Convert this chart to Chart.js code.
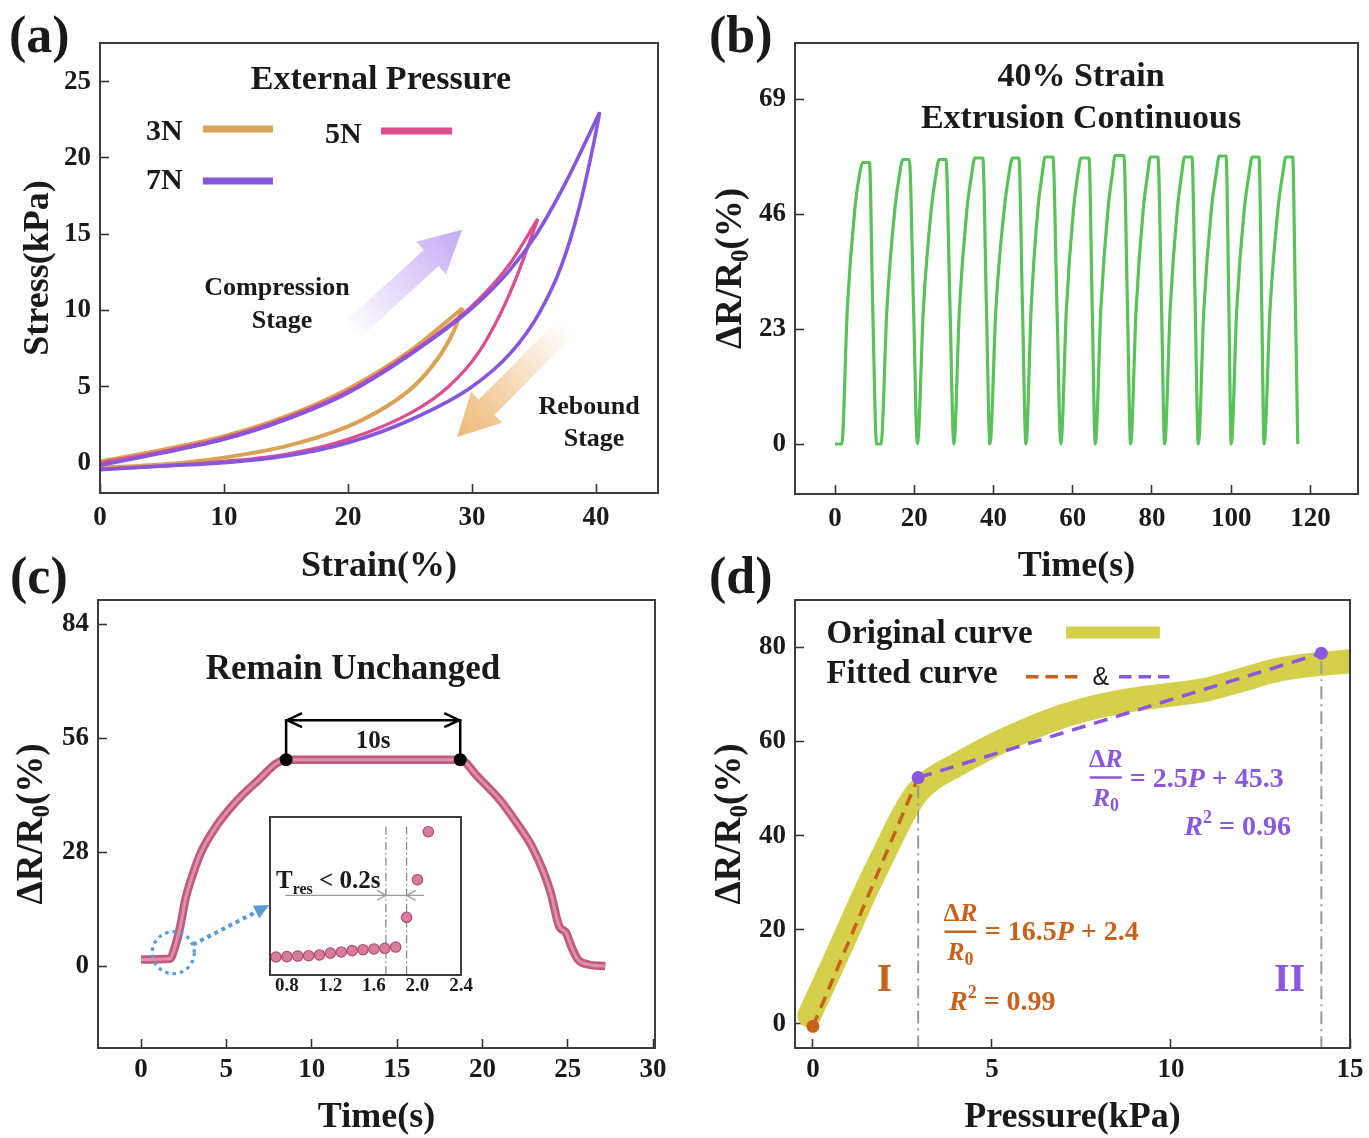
<!DOCTYPE html>
<html>
<head>
<meta charset="utf-8">
<title>Stress and resistance response</title>
<script src="https://cdn.jsdelivr.net/npm/chart.js@4.4.1/dist/chart.umd.min.js"></script>
<style>
html, body { margin: 0; padding: 0; background: #fff; }
body { position: relative; width: 1369px; height: 1138px; overflow: hidden; }
.box { position: absolute; }
</style>
</head>
<body>
<div class="box" style="left:0;top:0;width:684px;height:600px"><canvas id="chartA"></canvas></div>
<div class="box" style="left:684px;top:0;width:685px;height:600px"><canvas id="chartB"></canvas></div>
<div class="box" style="left:0;top:545px;width:684px;height:593px"><canvas id="chartC"></canvas></div>
<div class="box" style="left:684px;top:545px;width:685px;height:593px"><canvas id="chartD"></canvas></div>
<div class="box" style="left:262px;top:808px;width:216px;height:195px"><canvas id="chartInset"></canvas></div>
<script>
/* (a) stress-strain loops: loading branch and return branch, both listed by rising strain */
var strainTicks = [0, 10, 20, 30, 40];
var stressTicks = [0, 5, 10, 15, 20, 25];
var strain3Up = [0, 5, 10, 15, 20, 25, 29.25];
var stress3Up = [0.1, 0.85, 1.75, 3.05, 4.85, 7.35, 10.15];
var strain3Back = [0, 5, 10, 15, 20, 23.1, 25.4, 27.2, 28.5, 29.25];
var stress3Back = [-0.3, -0.1, 0.35, 1.1, 2.4, 3.7, 5.1, 6.8, 8.6, 10.15];
var strain5Up = [0, 5, 10, 15, 20, 25, 30, 33, 35.3];
var stress5Up = [0.0, 0.75, 1.65, 2.95, 4.7, 7.2, 10.3, 13.0, 16.0];
var strain5Back = [0, 5, 10, 15, 20, 25.1, 28.1, 30.5, 32.3, 33.6, 34.6, 35.3];
var stress5Back = [-0.4, -0.2, 0.1, 0.57, 1.55, 3.3, 5.0, 7.2, 9.8, 12.2, 14.4, 16.0];
var strain7Up = [0, 5, 10, 15, 20, 25, 30, 33, 35.2, 37.5, 40.3];
var stress7Up = [-0.15, 0.65, 1.55, 2.85, 4.6, 7.1, 10.15, 12.6, 15.0, 18.3, 23.0];
var strain7Back = [0, 5, 10, 15, 20, 25.1, 30, 33.1, 35.4, 37.2, 38.6, 39.8, 40.3];
var stress7Back = [-0.45, -0.2, 0.02, 0.46, 1.33, 2.85, 5.0, 7.2, 9.8, 12.9, 16.6, 20.9, 23.0];

/* (b) continuous extrusion at 40% strain */
var timeTicksB = [0, 20, 40, 60, 80, 100, 120];
var respTicksB = [0, 23, 46, 69];
var timeB = [
	0, 1.7, 3.1, 5.0, 6.2, 7.0, 8.7, 9.5, 10.5, 11.6,
	13.1, 15.1, 16.3, 17.1, 18.75, 19.8, 20.8,
	22.3, 24.3, 25.5, 26.3, 28.0, 29.0, 30.0,
	31.4, 33.3, 34.5, 35.3, 37.3, 38.2, 39.1,
	40.6, 42.7, 43.9, 44.8, 46.4, 47.3, 48.2,
	49.5, 51.2, 52.3, 53.0, 55.0, 56.0, 57.0,
	58.4, 60.2, 61.3, 62.1, 64.1, 64.9, 65.7,
	67.1, 68.9, 70.0, 70.7, 72.9, 73.8, 74.6,
	76.0, 77.8, 78.9, 79.6, 81.5, 82.4, 83.2,
	84.6, 86.4, 87.5, 88.2, 90.1, 90.9, 91.7,
	93.1, 95.0, 96.2, 97.0, 98.7, 99.4, 100.0,
	101.4, 103.3, 104.5, 105.3, 107.0, 107.7, 108.3,
	109.8, 111.8, 113.0, 113.8, 115.5, 116.2, 116.8
];
var respB = [
	0, 0, 27, 47, 54, 56.3, 56.3, 28, 0, 0,
	27, 47, 54, 56.9, 56.9, 28, 0,
	27, 47, 54, 56.9, 56.9, 28, 0,
	27, 47, 54, 57.2, 57.2, 28, 0,
	27, 47, 54, 57.2, 57.2, 28, 0,
	27, 47, 54, 57.4, 57.4, 28, 0,
	27, 47, 54, 57.2, 57.2, 28, 0,
	27, 47, 54, 57.7, 57.7, 28, 0,
	27, 47, 54, 57.4, 57.4, 28, 0,
	27, 47, 54, 57.4, 57.4, 28, 0,
	27, 47, 54, 57.6, 57.6, 28, 0,
	27, 47, 54, 57.4, 57.4, 28, 0,
	27, 47, 54, 57.4, 57.4, 28, 0
];

/* (c) hold test */
var timeTicksC = [0, 5, 10, 15, 20, 25, 30];
var respTicksC = [0, 28, 56, 84];
var timeC = [0, 1.7, 2.0, 2.3, 2.6, 3.0, 3.5, 4.4, 5.5, 6.7, 8.5, 18.7, 19.7, 21.0, 22.0, 22.9, 23.6, 24.0, 24.5, 24.9, 25.2, 25.6, 26.2, 27.2];
var respC = [1.6, 1.8, 4.9, 9.8, 16.4, 22.1, 27.8, 34.3, 40.1, 45.0, 50.7, 50.7, 46.6, 40.9, 35.2, 29.4, 22.9, 18.0, 9.8, 8.2, 4.9, 1.6, 0.4, 0.0];
var holdT = [8.5, 18.7];
var holdR = [50.7, 50.7];
var insetTicks = [0.8, 1.2, 1.6, 2.0, 2.4];
var insetT = [0.7, 0.8, 0.9, 1.0, 1.1, 1.2, 1.3, 1.4, 1.5, 1.6, 1.7, 1.8, 1.9, 2.0, 2.1];
var insetR = [1.14, 1.16, 1.2, 1.22, 1.27, 1.39, 1.46, 1.54, 1.6, 1.65, 1.69, 1.77, 3.65, 6.03, 9.07];

/* (d) pressure response */
var pressTicks = [0, 5, 10, 15];
var respTicksD = [0, 20, 40, 60, 80];
var pressD = [-0.1, 0.5, 1.0, 1.5, 2.0, 2.5, 2.9, 3.3, 4.0, 5.0, 6.0, 7.0, 8.0, 9.0, 10.0, 11.0, 12.0, 13.0, 14.0, 15.2];
var respD = [1.8, 11.7, 20.1, 28.6, 36.4, 44.1, 49.0, 51.8, 54.9, 59.0, 62.5, 65.4, 67.5, 68.9, 69.9, 71.0, 73.1, 75.2, 76.3, 77.1];
var fitIP = [0, 2.94];
var fitIR = [-0.5, 52.3];
var fitIIP = [2.94, 14.2];
var fitIIR = [52.3, 78.7];
var dotP = [0, 2.94, 14.2];
var dotR = [-0.5, 52.3, 78.7];

var SERIF = '"Liberation Serif", "Times New Roman", serif';
var INK = '#1a1a1a';
var C_3N = '#DAA255', C_5N = '#DC4F8F', C_7N = '#8656DC';
var C_GREEN = '#5BC15B', C_BAND = '#D4D04C';
var C_ORANGE = '#C8611C', C_PURPLE = '#8A57DF', C_BLUE = '#5B9BD5';

Chart.defaults.font.family = SERIF;
Chart.defaults.color = INK;

var pts = function(xs, ys) {
	return xs.map(function(x, i) { return {x: x, y: ys[i]}; });
};
var X = function(c, v) { return c.scales.x.getPixelForValue(v); };
var Y = function(c, v) { return c.scales.y.getPixelForValue(v); };

var makeAxis = function(min, max, ticks, size, pad, title, titlePad) {
	return {
		type: 'linear', min: min, max: max,
		afterBuildTicks: function(s) { s.ticks = ticks.map(function(v) { return {value: v}; }); },
		afterFit: function(s) {
			if (s.isHorizontal()) { s.height = size; s.paddingLeft = 0; s.paddingRight = 0; }
			else { s.width = size; s.paddingTop = 0; s.paddingBottom = 0; }
		},
		border: {display: false},
		grid: {drawOnChartArea: false, tickLength: -9, tickWidth: 1.6, tickColor: '#333'},
		ticks: {padding: pad, color: INK, autoSkip: false, maxRotation: 0, minRotation: 0, font: {size: 27, weight: 'bold'}},
		title: title ? {display: true, text: title, color: INK, font: {size: 36, weight: 'bold', lineHeight: 1}, padding: titlePad} : {display: false}
	};
};

var baseOptions = function(pad, xAxis, yAxis) {
	return {
		responsive: true, maintainAspectRatio: false, animation: false, events: [],
		layout: {padding: pad},
		plugins: {legend: {display: false}, tooltip: {enabled: false}},
		scales: {x: xAxis, y: yAxis}
	};
};

// text made of runs: [text, size, style, dy, family]
var rich = function(ctx, parts, x, y, align, color) {
	var fontOf = function(p) { return (p[2] || 'bold') + ' ' + p[1] + 'px ' + (p[4] || SERIF); };
	var w = 0;
	ctx.save();
	parts.forEach(function(p) { ctx.font = fontOf(p); w += ctx.measureText(p[0]).width; });
	var cx = align === 'center' ? x - w / 2 : (align === 'right' ? x - w : x);
	ctx.fillStyle = color || INK;
	ctx.textAlign = 'left';
	ctx.textBaseline = 'alphabetic';
	parts.forEach(function(p) {
		ctx.font = fontOf(p);
		ctx.fillText(p[0], cx, y + (p[3] || 0));
		cx += ctx.measureText(p[0]).width;
	});
	ctx.restore();
};

var drawFrame = function(c) {
	var a = c.chartArea, ctx = c.ctx;
	ctx.save();
	ctx.strokeStyle = '#3c3c3c';
	ctx.lineWidth = 2;
	ctx.strokeRect(a.left, a.top, a.right - a.left, a.bottom - a.top);
	ctx.restore();
};

var drawRatioTitle = function(c, xPix) {
	var a = c.chartArea, ctx = c.ctx;
	ctx.save();
	ctx.translate(xPix, (a.top + a.bottom) / 2);
	ctx.rotate(-Math.PI / 2);
	rich(ctx, [['\u0394R/R', 37], ['0', 25, 'bold', 7], ['(%)', 37]], 0, 12, 'center');
	ctx.restore();
};

var swatch = function(ctx, x0, x1, y, color, width, dash) {
	ctx.save();
	ctx.strokeStyle = color;
	ctx.lineWidth = width;
	ctx.setLineDash(dash || []);
	ctx.beginPath(); ctx.moveTo(x0, y); ctx.lineTo(x1, y); ctx.stroke();
	ctx.restore();
};

var fatArrow = function(ctx, x0, y0, x1, y1, shaft, head, headLen, rgb) {
	var ang = Math.atan2(y1 - y0, x1 - x0), len = Math.hypot(x1 - x0, y1 - y0);
	var col = function(a) { return 'rgba(' + rgb.join(',') + ',' + a + ')'; };
	ctx.save();
	ctx.translate(x0, y0);
	ctx.rotate(ang);
	var g = ctx.createLinearGradient(0, 0, len, 0);
	g.addColorStop(0, col(0));
	g.addColorStop(0.55, col(0.5));
	g.addColorStop(1, col(0.9));
	ctx.fillStyle = g;
	ctx.beginPath();
	ctx.moveTo(0, -shaft / 2);
	ctx.lineTo(len - headLen, -shaft / 2);
	ctx.lineTo(len - headLen, -head / 2);
	ctx.lineTo(len, 0);
	ctx.lineTo(len - headLen, head / 2);
	ctx.lineTo(len - headLen, shaft / 2);
	ctx.lineTo(0, shaft / 2);
	ctx.closePath();
	ctx.fill();
	ctx.restore();
};

var curve = function(xs, ys, color, width) {
	return {data: pts(xs, ys), borderColor: color, borderWidth: width, cubicInterpolationMode: 'monotone', pointRadius: 0, fill: false};
};

/* ---------- (a) ---------- */
new Chart(document.getElementById('chartA'), {
	type: 'line',
	data: {datasets: [
		curve(strain7Up, stress7Up, C_7N, 3.6),
		curve(strain7Back, stress7Back, C_7N, 3.6),
		curve(strain5Up, stress5Up, C_5N, 3.3),
		curve(strain5Back, stress5Back, C_5N, 3.3),
		curve(strain3Up, stress3Up, C_3N, 4),
		curve(strain3Back, stress3Back, C_3N, 4)
	]},
	options: baseOptions({top: 43, right: 26, left: 0, bottom: 0},
		makeAxis(0, 45, strainTicks, 107, 17.5, 'Strain(%)', {bottom: 15}),
		makeAxis(-1.97, 27.54, stressTicks, 100, 18, 'Stress(kPa)', {top: 21})),
	plugins: [{
		id: 'panelA',
		beforeDatasetsDraw: function(c) {
			fatArrow(c.ctx, X(c, 20.2), Y(c, 8.6), X(c, 29.2), Y(c, 15.3), 22, 44, 42, [190, 160, 244]);
			fatArrow(c.ctx, X(c, 37.7), Y(c, 9.0), X(c, 28.8), Y(c, 1.7), 22, 44, 42, [236, 176, 104]);
		},
		afterDraw: function(c) {
			var ctx = c.ctx;
			drawFrame(c);
			rich(ctx, [['External Pressure', 34]], X(c, 22.66), Y(c, 24.5), 'center');
			rich(ctx, [['3N', 30]], X(c, 3.7), Y(c, 21.2), 'left');
			rich(ctx, [['5N', 30]], X(c, 18.15), Y(c, 21.0), 'left');
			rich(ctx, [['7N', 30]], X(c, 3.7), Y(c, 17.97), 'left');
			swatch(ctx, X(c, 8.3), X(c, 13.95), Y(c, 21.9), C_3N, 7);
			swatch(ctx, X(c, 22.66), X(c, 28.4), Y(c, 21.77), C_5N, 7);
			swatch(ctx, X(c, 8.3), X(c, 13.95), Y(c, 18.49), C_7N, 7);
			rich(ctx, [['Compression', 26]], X(c, 14.27), Y(c, 11.02), 'center');
			rich(ctx, [['Stage', 26]], X(c, 14.68), Y(c, 8.85), 'center');
			rich(ctx, [['Rebound', 26]], X(c, 39.44), Y(c, 3.21), 'center');
			rich(ctx, [['Stage', 26]], X(c, 39.84), Y(c, 1.08), 'center');
			rich(ctx, [['(a)', 52]], 9, 52, 'left');
		}
	}]
});

/* ---------- (b) ---------- */
new Chart(document.getElementById('chartB'), {
	type: 'line',
	data: {datasets: [{
		data: pts(timeB, respB), borderColor: C_GREEN, borderWidth: 3.2,
		cubicInterpolationMode: 'monotone', pointRadius: 0, fill: false
	}]},
	options: baseOptions({top: 43, right: 11, left: 0, bottom: 0},
		makeAxis(-10.1, 132, timeTicksB, 106, 17.5, 'Time(s)', {bottom: 15}),
		makeAxis(-10, 80.2, respTicksB, 111, 18, null)),
	plugins: [{
		id: 'panelB',
		afterDraw: function(c) {
			var ctx = c.ctx;
			drawFrame(c);
			drawRatioTitle(c, 45);
			rich(ctx, [['40% Strain', 34]], X(c, 62.1), Y(c, 71.6), 'center');
			rich(ctx, [['Extrusion Continuous', 34]], X(c, 62.1), Y(c, 63.2), 'center');
			rich(ctx, [['(b)', 52]], 25, 52, 'left');
		}
	}]
});

/* ---------- (c) ---------- */
new Chart(document.getElementById('chartC'), {
	type: 'line',
	data: {datasets: [
		{data: pts(holdT, holdR), showLine: false, pointRadius: 6.5, pointBackgroundColor: '#000', pointBorderWidth: 0},
		{data: pts(timeC, respC), borderColor: '#DC93AA', borderWidth: 3, cubicInterpolationMode: 'monotone', pointRadius: 0, fill: false},
		{data: pts(timeC, respC), borderColor: '#C35A7C', borderWidth: 8.5, cubicInterpolationMode: 'monotone', pointRadius: 0, fill: false}
	]},
	options: baseOptions({top: 55, right: 29, left: 0, bottom: 0},
		makeAxis(-2.52, 30.11, timeTicksC, 90, 15, 'Time(s)', {bottom: 2}),
		makeAxis(-20.1, 89.9, respTicksC, 98, 18, null)),
	plugins: [{
		id: 'panelC',
		afterDraw: function(c) {
			var ctx = c.ctx;
			drawFrame(c);
			drawRatioTitle(c, 30);
			rich(ctx, [['Remain Unchanged', 35]], X(c, 12.42), Y(c, 70.4), 'center');
			// 10 s hold bracket
			var x0 = X(c, holdT[0]), x1 = X(c, holdT[1]), yb = Y(c, holdR[0]), yt = Y(c, 60.4);
			ctx.save();
			ctx.strokeStyle = '#000';
			ctx.lineWidth = 2.5;
			ctx.beginPath();
			ctx.moveTo(x0, yb); ctx.lineTo(x0, yt); ctx.lineTo(x1, yt); ctx.lineTo(x1, yb);
			ctx.moveTo(x0 + 16, yt - 7); ctx.lineTo(x0 + 1, yt); ctx.lineTo(x0 + 16, yt + 7);
			ctx.moveTo(x1 - 16, yt - 7); ctx.lineTo(x1 - 1, yt); ctx.lineTo(x1 - 16, yt + 7);
			ctx.stroke();
			ctx.restore();
			rich(ctx, [['10s', 25]], (x0 + x1) / 2, Y(c, 53.5), 'center');
			// dotted marker round the step and pointer to the inset
			ctx.save();
			ctx.strokeStyle = C_BLUE;
			ctx.lineWidth = 3.2;
			ctx.setLineDash([3.5, 4]);
			ctx.beginPath();
			ctx.arc(X(c, 1.89), Y(c, 3.3), 21, 0, Math.PI * 2);
			ctx.stroke();
			var ax0 = X(c, 3.05), ay0 = Y(c, 5.3), ax1 = X(c, 7.52), ay1 = Y(c, 15.0);
			var ang = Math.atan2(ay1 - ay0, ax1 - ax0);
			ctx.lineWidth = 4;
			ctx.setLineDash([4, 4]);
			ctx.beginPath();
			ctx.moveTo(ax0, ay0);
			ctx.lineTo(ax1 - 12 * Math.cos(ang), ay1 - 12 * Math.sin(ang));
			ctx.stroke();
			ctx.setLineDash([]);
			ctx.fillStyle = C_BLUE;
			ctx.translate(ax1, ay1);
			ctx.rotate(ang);
			ctx.beginPath(); ctx.moveTo(0, 0); ctx.lineTo(-15, -7); ctx.lineTo(-15, 7); ctx.closePath(); ctx.fill();
			ctx.restore();
			rich(ctx, [['(c)', 52]], 10, 48, 'left');
		}
	}]
});

/* ---------- (c) inset ---------- */
new Chart(document.getElementById('chartInset'), {
	type: 'line',
	data: {datasets: [{
		data: pts(insetT, insetR), showLine: false, pointRadius: 5.2,
		pointBackgroundColor: '#D57D9B', pointBorderColor: '#B54B71', pointBorderWidth: 1.2
	}]},
	options: {
		responsive: true, maintainAspectRatio: false, animation: false, events: [],
		layout: {padding: {top: 9, right: 17, left: 8, bottom: 0}},
		plugins: {legend: {display: false}, tooltip: {enabled: false}},
		scales: {
			x: {
				type: 'linear', min: 0.645, max: 2.4,
				afterBuildTicks: function(s) { s.ticks = insetTicks.map(function(v) { return {value: v}; }); },
				afterFit: function(s) { s.height = 28; s.paddingLeft = 0; s.paddingRight = 0; },
				border: {display: false},
				grid: {display: false, drawTicks: false},
				ticks: {padding: 0, color: INK, autoSkip: false, maxRotation: 0, minRotation: 0,
					font: {size: 19, weight: 'bold'},
					callback: function(v) { return Number(v).toFixed(1); }}
			},
			y: {type: 'linear', min: 0, max: 10, display: false}
		}
	},
	plugins: [{
		id: 'inset',
		beforeDraw: function(c) {
			var a = c.chartArea;
			c.ctx.save();
			c.ctx.fillStyle = '#fff';
			c.ctx.fillRect(a.left, a.top, a.right - a.left, a.bottom - a.top);
			c.ctx.restore();
		},
		beforeDatasetsDraw: function(c) {
			var ctx = c.ctx, a = c.chartArea;
			ctx.save();
			ctx.strokeStyle = '#8a8a8a';
			ctx.lineWidth = 1.3;
			ctx.setLineDash([8, 3, 1.5, 3]);
			[1.71, 1.9].forEach(function(v) {
				ctx.beginPath(); ctx.moveTo(X(c, v), Y(c, 9.4)); ctx.lineTo(X(c, v), a.bottom); ctx.stroke();
			});
			ctx.setLineDash([]);
			ctx.strokeStyle = '#9a9a9a';
			ctx.lineWidth = 1.2;
			var y = Y(c, 5.04), l = X(c, 1.71), r = X(c, 1.9);
			ctx.beginPath();
			ctx.moveTo(X(c, 0.784), y); ctx.lineTo(X(c, 2.06), y);
			ctx.moveTo(l - 9, y - 5); ctx.lineTo(l, y); ctx.lineTo(l - 9, y + 5);
			ctx.moveTo(r + 9, y - 5); ctx.lineTo(r, y); ctx.lineTo(r + 9, y + 5);
			ctx.stroke();
			ctx.restore();
		},
		afterDraw: function(c) {
			drawFrame(c);
			rich(c.ctx, [['T', 25], ['res', 16, 'bold', 6], [' <', 25], [' 0.2s', 25]], X(c, 0.7), Y(c, 5.5), 'left');
		}
	}]
});

/* ---------- (d) ---------- */
new Chart(document.getElementById('chartD'), {
	type: 'line',
	data: {datasets: [
		{data: pts(dotP, dotR), showLine: false, pointRadius: 6.5, pointBorderWidth: 0,
			pointBackgroundColor: [C_ORANGE, C_PURPLE, C_PURPLE]},
		{data: pts(fitIIP, fitIIR), borderColor: C_PURPLE, borderWidth: 3.5, borderDash: [14, 9], pointRadius: 0, fill: false},
		{data: pts(fitIP, fitIR), borderColor: C_ORANGE, borderWidth: 3.5, borderDash: [12, 8], pointRadius: 0, fill: false},
		{data: pts(pressD, respD), borderColor: C_BAND, borderWidth: 24, borderCapStyle: 'round', borderJoinStyle: 'round',
			cubicInterpolationMode: 'monotone', pointRadius: 0, fill: false, clip: 0}
	]},
	options: baseOptions({top: 55, right: 19, left: 0, bottom: 0},
		makeAxis(-0.5, 15, pressTicks, 90, 15, 'Pressure(kPa)', {bottom: 2}),
		makeAxis(-5.1, 90, respTicksD, 111, 18, null)),
	plugins: [{
		id: 'panelD',
		afterDatasetsDraw: function(c) {
			var ctx = c.ctx, a = c.chartArea;
			ctx.save();
			ctx.strokeStyle = '#9a9a9a';
			ctx.lineWidth = 2;
			ctx.setLineDash([13, 5, 2, 5]);
			[1, 2].forEach(function(i) {
				ctx.beginPath();
				ctx.moveTo(X(c, dotP[i]), Y(c, dotR[i]) + 8);
				ctx.lineTo(X(c, dotP[i]), a.bottom);
				ctx.stroke();
			});
			ctx.restore();
		},
		afterDraw: function(c) {
			var ctx = c.ctx;
			drawFrame(c);
			drawRatioTitle(c, 44);
			rich(ctx, [['Original curve', 33]], X(c, 0.377), Y(c, 80.85), 'left');
			swatch(ctx, X(c, 7.07), X(c, 9.69), Y(c, 83.08), C_BAND, 12);
			rich(ctx, [['Fitted curve', 33]], X(c, 0.377), Y(c, 72.3), 'left');
			swatch(ctx, X(c, 5.95), X(c, 7.40), Y(c, 73.7), C_ORANGE, 3.5, [12.5, 7]);
			rich(ctx, [['&', 25, 'normal', 0, '"Liberation Sans", sans-serif']], X(c, 7.81), Y(c, 71.9), 'left');
			swatch(ctx, X(c, 8.55), X(c, 9.96), Y(c, 73.7), C_PURPLE, 3.5, [12.5, 7]);
			var frac = function(xc, ybar, color) {
				swatch(ctx, xc - 16, xc + 16, ybar, color, 2.5);
				rich(ctx, [['\u0394', 26], ['R', 26, 'italic bold']], xc, ybar - 10.5, 'center', color);
				rich(ctx, [['R', 26, 'italic bold'], ['0', 18, 'bold', 5]], xc, ybar + 28, 'center', color);
			};
			frac(X(c, 8.18), Y(c, 52.3), C_PURPLE);
			rich(ctx, [['= 2.5', 28], ['P', 28, 'italic bold'], [' + 45.3', 28]], X(c, 8.85), Y(c, 50.3), 'left', C_PURPLE);
			rich(ctx, [['R', 28, 'italic bold'], ['2', 18, 'bold', -12], [' = 0.96', 28]], X(c, 13.35), Y(c, 40.1), 'right', C_PURPLE);
			frac(X(c, 4.12), Y(c, 19.59), C_ORANGE);
			rich(ctx, [['= 16.5', 28], ['P', 28, 'italic bold'], [' + 2.4', 28]], X(c, 4.80), Y(c, 17.82), 'left', C_ORANGE);
			rich(ctx, [['R', 28, 'italic bold'], ['2', 18, 'bold', -12], [' = 0.99', 28]], X(c, 3.80), Y(c, 2.97), 'left', C_ORANGE);
			rich(ctx, [['I', 40]], X(c, 2.0), Y(c, 7.0), 'center', C_ORANGE);
			rich(ctx, [['II', 40]], X(c, 13.31), Y(c, 7.0), 'center', C_PURPLE);
			rich(ctx, [['(d)', 52]], 25, 48, 'left');
		}
	}]
});
</script>
</body>
</html>
